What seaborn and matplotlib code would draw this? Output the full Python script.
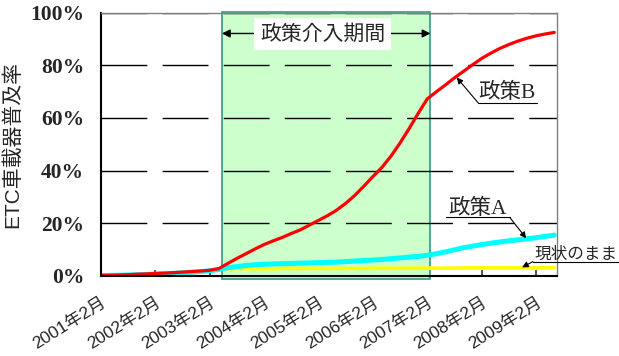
import numpy as np
import pandas as pd
import matplotlib
matplotlib.use("Agg")
import matplotlib.pyplot as plt
import matplotlib.transforms as mtransforms
import seaborn as sns
from matplotlib.patches import Rectangle
from matplotlib.font_manager import FontProperties

# ---------------- data ----------------
# month index: 0 = 2001年2月, step of 2 months
months = list(range(0, 101, 2))
policy_b = [0.0, 0.1, 0.2, 0.3, 0.5, 0.6, 0.8, 0.9, 1.1, 1.3, 1.5, 1.7, 2.0, 2.6,
            4.6, 6.5, 8.3, 10.1, 11.8, 13.2, 14.5, 16.0, 17.4, 19.2, 21.0, 22.8,
            24.9, 27.5, 30.5, 34.0, 37.7, 41.2, 45.5, 50.5, 56.0, 61.8, 67.3, 70.0,
            72.6, 75.3, 77.8, 80.3, 82.7, 84.7, 86.5, 88.0, 89.3, 90.4, 91.3, 92.0, 92.6]
policy_a = [0.0, 0.05, 0.1, 0.2, 0.3, 0.4, 0.5, 0.7, 0.8, 1.0, 1.2, 1.5, 1.8, 2.3,
            3.0, 3.4, 3.8, 4.1, 4.3, 4.4, 4.5, 4.6, 4.7, 4.8, 4.9, 5.0, 5.1, 5.3,
            5.5, 5.7, 5.9, 6.1, 6.4, 6.7, 7.0, 7.3, 7.7, 8.3, 9.0, 9.8, 10.6, 11.2,
            11.8, 12.3, 12.8, 13.2, 13.6, 14.0, 14.4, 14.9, 15.4]
status_quo = [0.0, 0.05, 0.1, 0.2, 0.3, 0.4, 0.5, 0.7, 0.8, 1.0, 1.2, 1.5, 1.8, 2.3,
              2.6, 2.6, 2.6, 2.6, 2.6, 2.6, 2.7, 2.7, 2.7, 2.7, 2.7, 2.7, 2.7, 2.7,
              2.7, 2.7, 2.8, 2.8, 2.8, 2.8, 2.8, 2.8, 2.8, 2.8, 2.8, 2.8, 2.9, 2.9,
              2.9, 2.9, 2.9, 2.9, 2.9, 2.9, 2.9, 2.9, 3.0]
series_names = ["現状のまま", "政策A", "政策B"]
series_colors = ["#FFFF00", "#00FFFF", "#FF0000"]

xtick_months = [0, 12, 24, 36, 48, 60, 72, 84, 96]
xtick_labels = ["2001年2月", "2002年2月", "2003年2月", "2004年2月", "2005年2月",
                "2006年2月", "2007年2月", "2008年2月", "2009年2月"]
ytick_values = [0, 20, 40, 60, 80, 100]
ytick_labels = ["0%", "20%", "40%", "60%", "80%", "100%"]
period = [26.7, 72.7]          # 政策介入期間 (month index)
x_end = 100.6

df = pd.DataFrame({
    "month": months * 3,
    "value": status_quo + policy_a + policy_b,
    "series": sum([[n] * len(months) for n in series_names], []),
})

# ---------------- figure ----------------
sns.set_theme(style="white")
CJK_SANS = ["Liberation Sans", "Noto Sans CJK JP", "DejaVu Sans"]
CJK_SERIF = ["Liberation Serif", "Noto Sans CJK JP", "DejaVu Sans"]
plt.rcParams["font.family"] = CJK_SANS

fig = plt.figure(figsize=(6.19, 3.56), dpi=100)
ax = fig.add_axes([0.1629, 0.2261, 0.8998 - 0.1629, 0.9635 - 0.2261])
ax.set_xlim(0, x_end)
ax.set_ylim(0, 100)

# intervention period shading
ax.add_patch(Rectangle((period[0], -1.4), period[1] - period[0], 101.8,
                       facecolor="#CCFFCC", edgecolor="#339980", lw=1.2,
                       zorder=1, clip_on=False))

# gridlines
for v in ytick_values[1:]:
    ax.axhline(v, color="black", lw=1.0, linestyle=(0, (33, 11)), zorder=2)

widths = {"現状のまま": 2.6, "政策A": 3.6, "政策B": 2.3}
for name, color in zip(series_names, series_colors):
    sub = df[df["series"] == name]
    sns.lineplot(data=sub, x="month", y="value", ax=ax, color=color,
                 lw=widths[name], zorder=3, legend=False)

# spines
for s in ["left", "bottom"]:
    ax.spines[s].set_color("black")
    ax.spines[s].set_linewidth(1.5)
for s in ["top", "right"]:
    ax.spines[s].set_color("#808080")
    ax.spines[s].set_linewidth(1.0)
for sp in ax.spines.values():
    sp.set_zorder(4)

ax.set_xticks(xtick_months)
ax.set_xticklabels(xtick_labels, rotation=32, ha="right", rotation_mode="anchor",
                   fontproperties=FontProperties(family=CJK_SANS, size=12.5))
shift = mtransforms.ScaledTranslation(-3 / 100, 0, fig.dpi_scale_trans)
for lbl in ax.get_xticklabels():
    lbl.set_transform(lbl.get_transform() + shift)
ax.tick_params(axis="x", direction="in", length=4, width=1.2, color="#333333",
               pad=14, bottom=True)
ax.set_yticks(ytick_values)
ax.set_yticklabels(ytick_labels,
                   fontproperties=FontProperties(family=["Liberation Serif"],
                                                 weight="bold", size=15.5))
ax.tick_params(axis="y", length=0, pad=12)
ax.set_xlabel("")
ax.set_ylabel("ETC車載器普及率", labelpad=6,
              fontproperties=FontProperties(family=CJK_SANS, size=15))

# intervention period annotation
ax.annotate("", xy=(period[0], 92.2), xytext=(period[1], 92.2),
            arrowprops=dict(arrowstyle="<|-|>", color="black", lw=1.0,
                            mutation_scale=12, shrinkA=0, shrinkB=0), zorder=5)
ax.text((period[0] + period[1]) / 2 - 0.8, 92.0, "政策介入期間", fontsize=15,
        family=CJK_SANS, ha="center", va="center", zorder=6,
        bbox=dict(boxstyle="square,pad=0.3", facecolor="white", edgecolor="none"))

arrow_kw = dict(arrowstyle="-|>", color="black", lw=0.8, mutation_scale=9,
                shrinkA=0, shrinkB=0)
# 政策B
ax.text(83.2, 65.6, "政策B", fontsize=15.5, family=CJK_SERIF, ha="left", va="bottom",
        zorder=6)
ax.plot([83.2, 96.2], [65.8, 65.8], color="black", lw=0.8, zorder=6, clip_on=False)
ax.annotate("", xy=(78.5, 75.4), xytext=(83.2, 65.8), arrowprops=arrow_kw, zorder=6)
# 政策A
ax.text(76.6, 21.5, "政策A", fontsize=15.5, family=CJK_SERIF, ha="left", va="bottom",
        zorder=6)
ax.plot([76.1, 90.2], [22.1, 22.1], color="black", lw=0.8, zorder=6, clip_on=False)
ax.annotate("", xy=(93.8, 14.2), xytext=(90.2, 22.1), arrowprops=arrow_kw, zorder=6)
# 現状のまま
ax.text(95.6, 5.2, "現状のまま", fontsize=12, family=CJK_SANS, ha="left", va="bottom",
        zorder=6, clip_on=False)
ax.plot([95.3, 114.5], [5.3, 5.3], color="black", lw=0.8, zorder=6, clip_on=False)
ax.annotate("", xy=(92.9, 3.1), xytext=(95.3, 5.3), arrowprops=arrow_kw, zorder=6,
            annotation_clip=False)

fig.savefig("out.png", dpi=100)
